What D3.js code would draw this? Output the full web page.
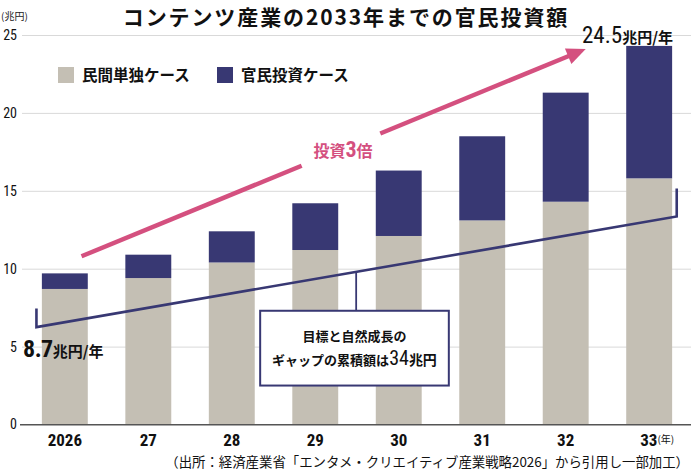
<!DOCTYPE html>
<html>
<head>
<meta charset="utf-8">
<script src="https://cdn.jsdelivr.net/npm/d3@7"></script>
<style>
  html, body { margin: 0; padding: 0; background: #fff; }
  svg { display: block; }
  .jp  { font-family: "Noto Sans CJK JP", "Noto Sans", sans-serif; }
  .num { font-family: "Liberation Sans Narrow", "Roboto Condensed", "DejaVu Sans Condensed", Roboto, sans-serif; font-stretch: condensed; }
</style>
</head>
<body>
<svg id="chart" width="691" height="472"></svg>
<script>
/* ───────────── DATA ───────────── */
const years      = ["2026", "27", "28", "29", "30", "31", "32", "33"];
const privateVal = [8.7, 9.4, 10.4, 11.2, 12.1, 13.1, 14.3, 15.8];   // 民間単独ケース
const publicAdd  = [1.0, 1.5, 2.0, 3.0, 4.2, 5.4, 7.0, 8.5];        // 官民投資ケース（上乗せ分）
const yTicks     = [0, 5, 10, 15, 20, 25];
const seriesKeys = ["private", "public"];
const seriesName = ["民間単独ケース", "官民投資ケース"];

// annotation lines, x in band-index units, y in 兆円
const arrowPts = [[0.2, 10.8], [6.24, 24.1]];                         // 投資3倍
const gapLine  = [[-0.34, 7.45], [-0.34, 6.25], [7.33, 13.35], [7.33, 15.15]];
const gapStem  = [[3.49, 9.85], [3.49, 7.3]];
const gapBox   = { x0: 2.34, x1: 4.6, y0: 7.3, y1: 2.5 };

/* ───────────── SETUP ───────────── */
const navy = "#383873", beige = "#c4bfb4", pink = "#d4507f";
const svg = d3.select("#chart");

const rows = years.map((y, i) => ({ year: y, private: privateVal[i], public: publicAdd[i] }));
const stacked = d3.stack().keys(seriesKeys)(rows);

const x = d3.scaleBand().domain(years).range([21, 693]).paddingInner(0.45).paddingOuter(0.25);
const y = d3.scaleLinear().domain([0, 25]).range([424.5, 35]);
const xi = d3.scaleLinear().domain([0, years.length - 1])
             .range([x(years[0]) + x.bandwidth() / 2, x(years[years.length - 1]) + x.bandwidth() / 2]);
const color = d3.scaleOrdinal().domain(seriesKeys).range([beige, navy]);

/* ───────────── GRID + Y AXIS ───────────── */
const yAxis = svg.append("g").attr("transform", "translate(22,0)")
  .call(d3.axisLeft(y).tickValues(yTicks).tickSize(-669).tickPadding(6));
yAxis.select(".domain").remove();
yAxis.selectAll(".tick line").attr("stroke", d => d === 0 ? "#555" : "#d9d9d9").attr("stroke-width", 1)
  .attr("x1", d => d === 0 ? -2 : 0);
yAxis.selectAll(".tick text").attr("class", "num").attr("font-size", 14).attr("fill", "#111")
  .attr("x", -5);

svg.append("text").attr("class", "jp").attr("x", 1).attr("y", 20)
  .attr("font-size", 10).attr("fill", "#222").text("(兆円)");

/* ───────────── BARS ───────────── */
svg.append("g").selectAll("g").data(stacked).join("g")
  .attr("fill", d => color(d.key))
  .selectAll("rect").data(d => d).join("rect")
  .attr("x", d => x(d.data.year))
  .attr("width", x.bandwidth())
  .attr("y", d => y(d[1]))
  .attr("height", d => y(d[0]) - y(d[1]));

// redraw baseline over bars
svg.append("line").attr("x1", 20).attr("x2", 691).attr("y1", y(0)).attr("y2", y(0))
  .attr("stroke", "#555").attr("stroke-width", 1);

/* ───────────── X AXIS ───────────── */
const xAxis = svg.append("g").attr("transform", `translate(0,${y(0)})`)
  .call(d3.axisBottom(x).tickSize(0).tickPadding(9));
xAxis.select(".domain").remove();
xAxis.selectAll(".tick text").attr("class", "num").attr("font-size", 17)
  .attr("font-weight", "bold").attr("fill", "#111");
const lastTick = xAxis.selectAll(".tick text").filter(d => d === "33");
lastTick.append("tspan").attr("class", "jp").attr("font-size", 10).attr("font-weight", "normal")
  .attr("dy", -3).text("(年)");
lastTick.attr("dx", 8);

/* ───────────── TITLE ───────────── */
svg.append("text").attr("class", "jp").attr("x", 346).attr("y", 25)
  .attr("text-anchor", "middle").attr("font-size", 21).attr("font-weight", "bold")
  .attr("fill", "#111").attr("letter-spacing", 1.9)
  .text("コンテンツ産業の2033年までの官民投資額");

/* ───────────── LEGEND ───────────── */
const legX = [58, 217];
const leg = svg.append("g").selectAll("g").data(seriesKeys).join("g")
  .attr("transform", (d, i) => `translate(${legX[i]},67)`);
leg.append("rect").attr("width", 16).attr("height", 16).attr("fill", d => color(d));
leg.append("text").attr("class", "jp").attr("x", 24).attr("y", 14)
  .attr("font-size", 15.5).attr("font-weight", "bold").attr("fill", "#111")
  .text((d, i) => seriesName[i]);

/* ───────────── ANNOTATIONS ───────────── */
const line = d3.line().x(d => xi(d[0])).y(d => y(d[1]));

// navy gap bracket
svg.append("path").attr("d", line(gapLine)).attr("fill", "none")
  .attr("stroke", navy).attr("stroke-width", 2.6);
svg.append("path").attr("d", line(gapStem)).attr("fill", "none")
  .attr("stroke", navy).attr("stroke-width", 1.8);
svg.append("rect")
  .attr("x", xi(gapBox.x0)).attr("y", y(gapBox.y0))
  .attr("width", xi(gapBox.x1) - xi(gapBox.x0)).attr("height", y(gapBox.y1) - y(gapBox.y0))
  .attr("fill", "#fff").attr("stroke", navy).attr("stroke-width", 2);
const boxCx = (xi(gapBox.x0) + xi(gapBox.x1)) / 2;
svg.append("text").attr("class", "jp").attr("x", boxCx).attr("y", 341)
  .attr("text-anchor", "middle").attr("font-size", 13).attr("font-weight", "bold").attr("fill", "#111")
  .text("目標と自然成長の");
const t2 = svg.append("text").attr("class", "jp").attr("x", boxCx).attr("y", 365)
  .attr("text-anchor", "middle").attr("font-size", 13).attr("font-weight", "bold").attr("fill", "#111");
t2.append("tspan").text("ギャップの累積額は");
t2.append("tspan").attr("class", "num").attr("font-size", 20).attr("font-weight", "normal").text("34");
t2.append("tspan").attr("font-size", 14).text("兆円");

// pink arrow, with gap for label
const [a0, a1] = arrowPts.map(p => [xi(p[0]), y(p[1])]);
const ang = Math.atan2(a1[1] - a0[1], a1[0] - a0[0]);
const len = Math.hypot(a1[0] - a0[0], a1[1] - a0[1]);
const pt = t => [a0[0] + Math.cos(ang) * t, a0[1] + Math.sin(ang) * t];
const gapA = 238, gapB = 323, headLen = 19, headW = 8.5;
const pinkG = svg.append("g").attr("stroke", pink).attr("stroke-width", 4.5).attr("fill", "none");
pinkG.append("path").attr("d", d3.line()([pt(0), pt(gapA)]));
pinkG.append("path").attr("d", d3.line()([pt(gapB), pt(len - headLen + 2)]));
const hb = pt(len - headLen);
svg.append("path").attr("fill", pink).attr("d", d3.line()([
  a1,
  [hb[0] + Math.sin(ang) * headW, hb[1] - Math.cos(ang) * headW],
  [hb[0] - Math.sin(ang) * headW, hb[1] + Math.cos(ang) * headW]
]) + "Z");

const lp = svg.append("text").attr("class", "jp").attr("x", 343).attr("y", 157)
  .attr("text-anchor", "middle").attr("font-size", 16).attr("font-weight", "bold").attr("fill", pink);
lp.append("tspan").text("投資");
lp.append("tspan").attr("class", "num").attr("font-size", 22).text("3");
lp.append("tspan").text("倍");

// value labels
const lab1 = svg.append("text").attr("x", 23).attr("y", 357).attr("fill", "#111");
lab1.append("tspan").attr("class", "num").attr("font-size", 24).attr("font-weight", "bold")
  .attr("letter-spacing", -0.5).text("8.7");
lab1.append("tspan").attr("class", "jp").attr("font-size", 15).attr("font-weight", "bold").text("兆円/年");

const lab2 = svg.append("text").attr("x", 582).attr("y", 43).attr("fill", "#111");
lab2.append("tspan").attr("class", "num").attr("font-size", 23).text("24.5");
lab2.append("tspan").attr("class", "jp").attr("font-size", 15).attr("font-weight", "bold").text("兆円/年");

/* ───────────── SOURCE ───────────── */
svg.append("text").attr("class", "jp").attr("x", 689).attr("y", 467)
  .attr("text-anchor", "end").attr("font-size", 13.4).attr("fill", "#111")
  .text("（出所：経済産業省「エンタメ・クリエイティブ産業戦略2026」から引用し一部加工）");
</script>
</body>
</html>
